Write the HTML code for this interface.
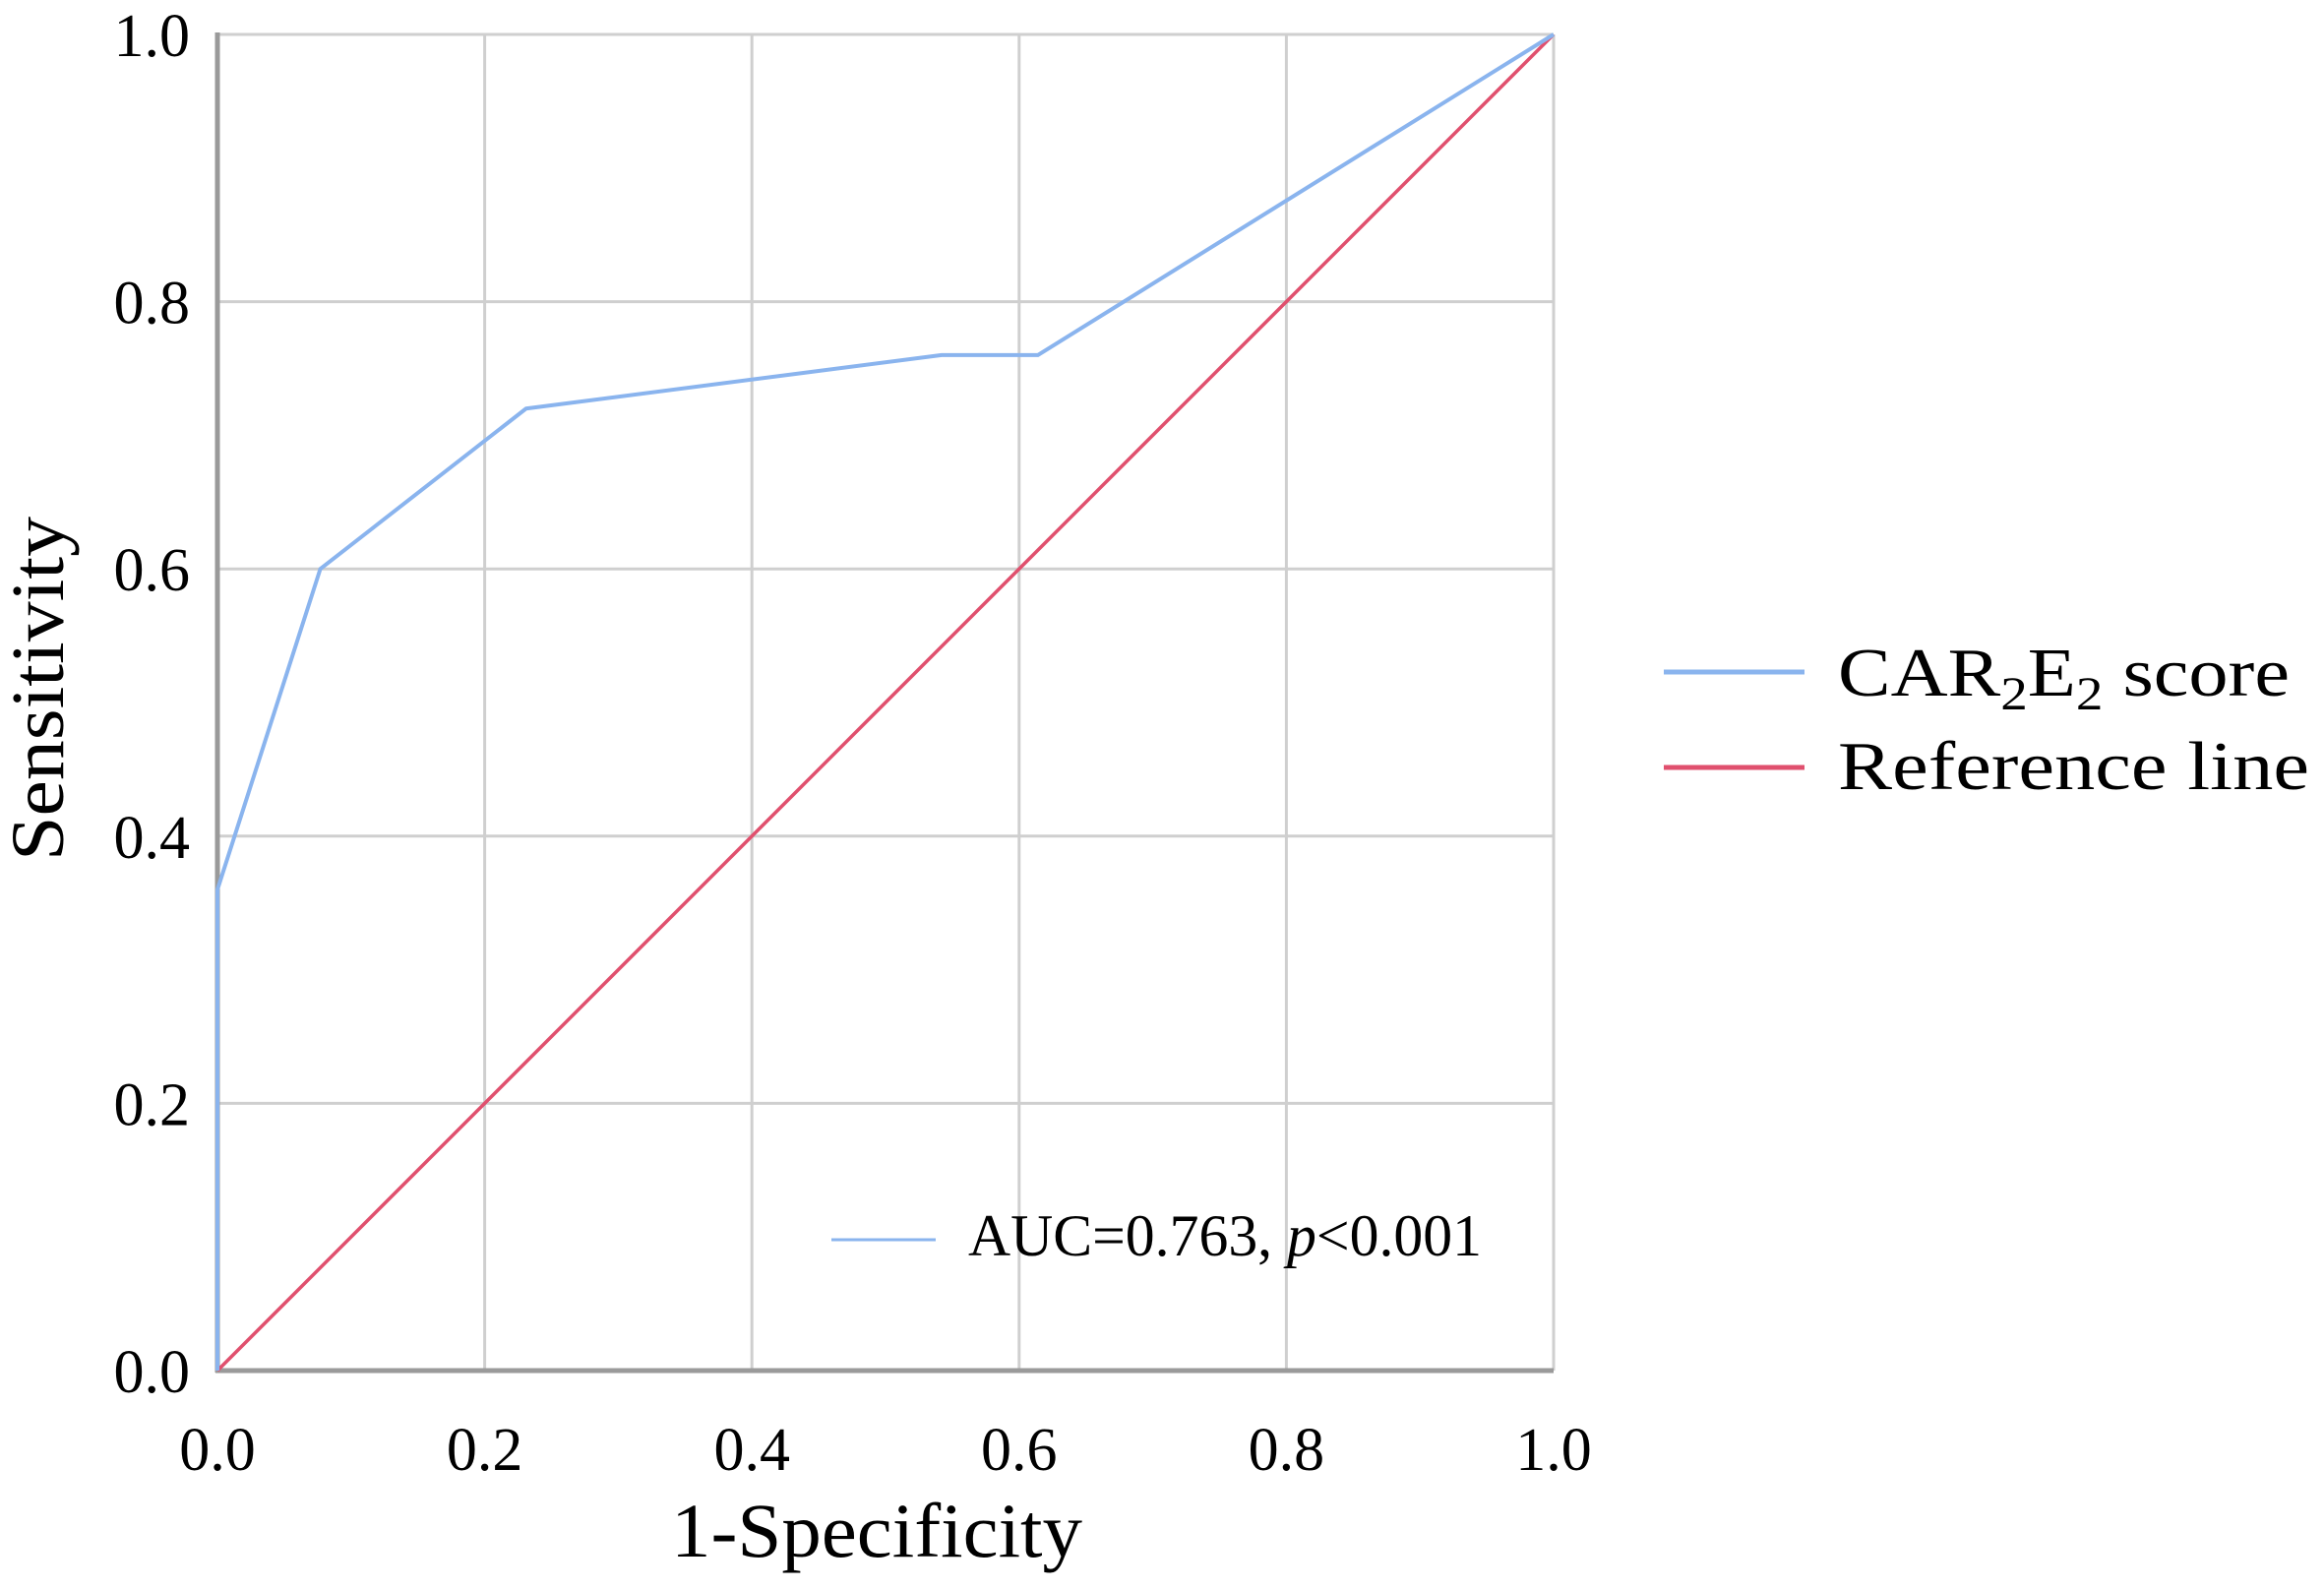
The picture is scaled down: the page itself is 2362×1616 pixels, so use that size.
<!DOCTYPE html>
<html><head><meta charset="utf-8"><style>
html,body{margin:0;padding:0;background:#fff;}
svg{display:block;font-family:"Liberation Serif",serif;}
</style></head><body>
<svg id="chart" width="2362" height="1616" viewBox="0 0 2362 1616">
<g id="grid"></g>
<g id="axes"></g>
<g id="series"></g>
<text x="891" y="1582" font-size="78" text-anchor="middle" textLength="418" lengthAdjust="spacingAndGlyphs">1-Specificity</text>
<text transform="translate(64,700) rotate(-90)" font-size="76" text-anchor="middle" textLength="350" lengthAdjust="spacingAndGlyphs">Sensitivity</text>
<g>
<line x1="1691" y1="683" x2="1834" y2="683" stroke="#8ab4ee" stroke-width="5"/>
<text x="1868" y="707" font-size="70" textLength="459" lengthAdjust="spacingAndGlyphs">CAR<tspan font-size="48" dy="14">2</tspan><tspan dy="-14">E</tspan><tspan font-size="48" dy="14">2</tspan><tspan dy="-14"> score</tspan></text>
<line x1="1691" y1="780" x2="1834" y2="780" stroke="#e0506e" stroke-width="5"/>
<text x="1868" y="802" font-size="70" textLength="479" lengthAdjust="spacingAndGlyphs">Reference line</text>
</g>
<g>
<line x1="845" y1="1260" x2="951" y2="1260" stroke="#8ab4ee" stroke-width="3"/>
<text x="984" y="1276" font-size="60" textLength="522" lengthAdjust="spacingAndGlyphs">AUC=0.763, <tspan font-style="italic">p</tspan>&lt;0.001</text>
</g>
</svg>
<script>
const xTicks = [0, 0.2, 0.4, 0.6, 0.8, 1.0];
const yTicks = [0, 0.2, 0.4, 0.6, 0.8, 1.0];
const tickLabels = ["0.0", "0.2", "0.4", "0.6", "0.8", "1.0"];
const rocX = [0, 0, 0.077, 0.231, 0.542, 0.614, 1.0];
const rocY = [0, 0.36, 0.60, 0.72, 0.76, 0.76, 1.0];
const refX = [0, 1];
const refY = [0, 1];

const L = 221, R = 1579, T = 35, B = 1393;
const sx = v => L + v * (R - L);
const sy = v => B - v * (B - T);
const NS = "http://www.w3.org/2000/svg";
function mk(tag, parent, attrs) {
  const e = document.createElementNS(NS, tag);
  for (const k in attrs) e.setAttribute(k, attrs[k]);
  parent.appendChild(e);
  return e;
}
const grid = document.getElementById('grid');
const axes = document.getElementById('axes');
const series = document.getElementById('series');

xTicks.forEach((v, i) => {
  const g = mk('line', grid, {x1: sx(v), x2: sx(v), y1: T, y2: B, stroke: '#cfcfcf', 'stroke-width': 3});
  
  
  const t = mk('text', axes, {x: sx(v), y: 1494, 'font-size': 62, 'text-anchor': 'middle'});
  t.textContent = tickLabels[i];
  
  
});
yTicks.forEach((v, i) => {
  const g = mk('line', grid, {x1: L, x2: R, y1: sy(v), y2: sy(v), stroke: '#cfcfcf', 'stroke-width': 3});
  
  
  const t = mk('text', axes, {x: 193, y: sy(v) + 22, 'font-size': 62, 'text-anchor': 'end'});
  t.textContent = tickLabels[i];
  
  
});
const ya = mk('line', axes, {x1: L, x2: L, y1: T - 2, y2: B + 2, stroke: '#9a9a9a', 'stroke-width': 5});


const xa = mk('line', axes, {x1: L - 2, x2: R, y1: B, y2: B, stroke: '#9a9a9a', 'stroke-width': 5});



const ref = mk('polyline', series, {points: refX.map((x, i) => sx(x) + ',' + sy(refY[i])).join(' '), fill: 'none', stroke: '#e0506e', 'stroke-width': 3.5});


const roc = mk('polyline', series, {points: rocX.map((x, i) => sx(x) + ',' + sy(rocY[i])).join(' '), fill: 'none', stroke: '#8ab4ee', 'stroke-width': 4, 'stroke-linejoin': 'round'});


</script>
</body></html>
